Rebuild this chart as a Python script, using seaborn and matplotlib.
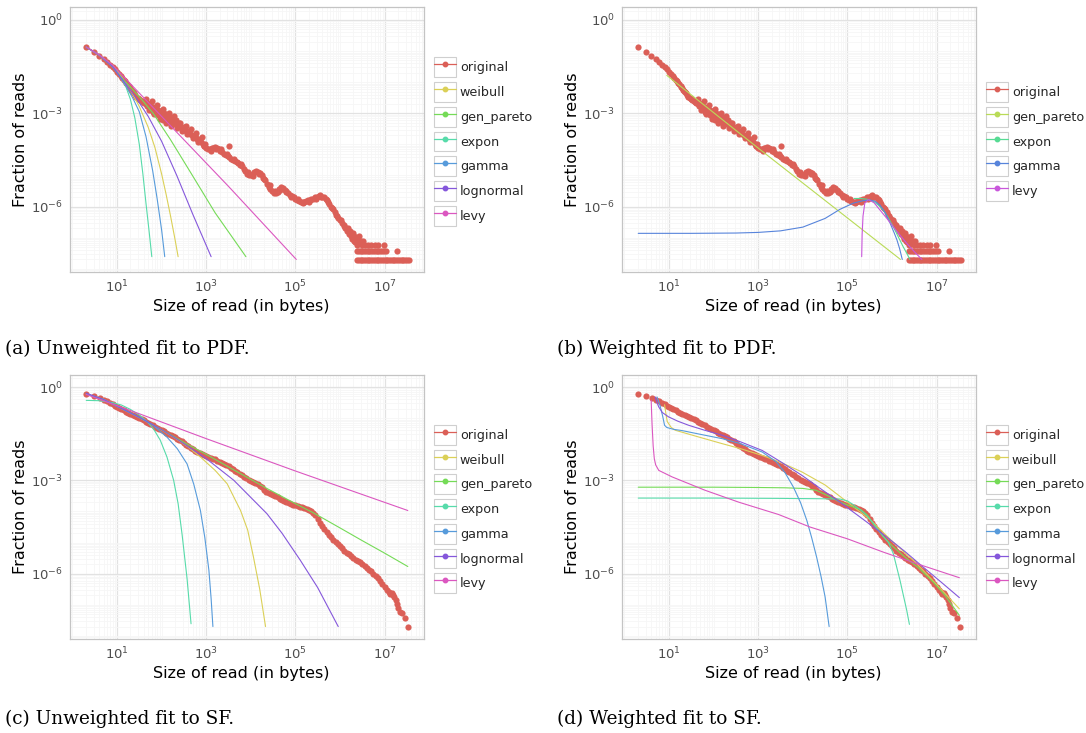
import numpy as np
import pandas as pd
import matplotlib
matplotlib.use("Agg")
import matplotlib.pyplot as plt
import seaborn as sns
from matplotlib.ticker import FixedLocator, FixedFormatter, NullFormatter, LogLocator
from matplotlib.lines import Line2D
from matplotlib.patches import Rectangle
from matplotlib.legend_handler import HandlerLine2D

# ---------------- data (stored as log10) ----------------
# empirical PDF of read sizes (panels a, b)
pdf_logx = [0.30, 0.48, 0.60, 0.70, 0.78, 0.85, 0.90, 0.95, 1.00, 1.04, 1.08, 1.11, 1.15, 1.18, 1.20, 1.23,
            1.26, 1.28, 1.30, 1.32, 1.34, 1.36, 1.38, 1.40, 1.43, 1.46, 1.49, 1.52, 1.55, 1.58, 1.61, 1.64,
            1.67, 1.70, 1.73, 1.76, 1.79, 1.82, 1.85, 1.88, 1.91, 1.94, 1.97, 2.00, 2.03, 2.06, 2.09, 2.12,
            2.15, 2.18, 2.21, 2.24, 2.27, 2.30, 2.33, 2.36, 2.40, 2.44, 2.48, 2.52, 2.56, 2.60, 2.64, 2.68,
            2.72, 2.76, 2.80, 2.84, 2.88, 2.92, 2.96, 3.00, 3.04, 3.08, 3.12, 3.16, 3.20, 3.24, 3.28, 3.32,
            3.36, 3.40, 3.44, 3.48, 3.50, 3.52, 3.56, 3.60, 3.64, 3.68, 3.72, 3.76, 3.80, 3.84, 3.88, 3.92,
            3.96, 4.00, 4.04, 4.08, 4.12, 4.16, 4.20, 4.24, 4.28, 4.32, 4.36, 4.40, 4.44, 4.48, 4.52, 4.56,
            4.60, 4.64, 4.68, 4.72, 4.76, 4.80, 4.84, 4.88, 4.92, 4.96, 5.00, 5.04, 5.08, 5.12, 5.16, 5.20,
            5.24, 5.28, 5.32, 5.36, 5.40, 5.44, 5.48, 5.52, 5.56, 5.60, 5.64, 5.68, 5.72, 5.76, 5.80, 5.84,
            5.88, 5.92, 5.96, 6.00, 6.04, 6.08, 6.12, 6.16, 6.20, 6.24,
            1.62, 1.68, 1.74, 1.80, 1.86, 1.92, 1.98, 2.02, 2.08, 2.14, 2.20, 2.26, 2.32, 2.38, 2.50, 2.62,
            2.74, 2.86, 2.98, 3.10, 3.22, 3.34, 3.46, 3.62, 3.78, 3.94, 4.06, 4.18, 4.30, 4.42, 4.54, 4.66,
            4.78, 4.90, 5.06, 5.18, 5.30, 5.46, 5.58, 5.70, 5.82, 5.94, 6.02, 6.10, 6.18,
            1.65, 1.72, 1.78, 1.84, 1.90, 1.96, 2.04, 2.10, 2.16, 2.22, 2.28, 2.34, 2.42, 2.46, 2.54, 2.58,
            2.66, 2.70, 2.78, 2.82, 2.90, 2.94,
            6.22, 6.26, 6.27, 6.29, 6.31, 6.32, 6.34, 6.35, 6.37, 6.39, 6.41, 6.43, 6.46, 6.49, 6.52, 6.56,
            6.62, 6.70, 6.78, 6.86, 6.99,
            6.38, 6.42, 6.46, 6.50, 6.54, 6.58, 6.62, 6.66, 6.70, 6.74, 6.78, 6.82, 6.86, 6.90, 6.94, 6.98,
            7.02, 7.27,
            6.38, 6.42, 6.46, 6.50, 6.54, 6.58, 6.62, 6.66, 6.70, 6.74, 6.78, 6.82, 6.86, 6.90, 6.94, 6.98,
            7.02, 7.06, 7.10, 7.14, 7.18, 7.22, 7.26, 7.30, 7.34, 7.38, 7.42, 7.46, 7.50, 7.54]
pdf_logy = [-0.87, -1.03, -1.15, -1.27, -1.36, -1.45, -1.52, -1.58, -1.66, -1.73, -1.80, -1.86, -1.92, -1.97,
            -2.02, -2.07, -2.11, -2.16, -2.20, -2.24, -2.28, -2.33, -2.36, -2.40, -2.46, -2.50, -2.55, -2.58,
            -2.62, -2.63, -2.66, -2.70, -2.68, -2.75, -2.72, -2.83, -2.80, -2.90, -2.86, -2.95, -3.05, -2.92,
            -3.10, -3.02, -3.15, -2.98, -3.20, -3.08, -3.25, -3.12, -3.30, -3.18, -3.22, -3.32, -3.28, -3.38,
            -3.42, -3.45, -3.50, -3.53, -3.60, -3.62, -3.66, -3.70, -3.74, -3.78, -3.82, -3.88, -3.93, -3.98,
            -4.05, -4.12, -4.16, -4.14, -4.12, -4.10, -4.08, -4.10, -4.14, -4.20, -4.26, -4.30, -4.35, -4.38,
            -4.04, -4.42, -4.46, -4.50, -4.52, -4.56, -4.60, -4.65, -4.70, -4.78, -4.86, -4.94, -4.98, -5.00,
            -4.96, -4.90, -4.86, -4.88, -4.93, -5.00, -5.08, -5.16, -5.26, -5.36, -5.44, -5.50, -5.56, -5.56,
            -5.52, -5.44, -5.38, -5.40, -5.46, -5.52, -5.56, -5.62, -5.66, -5.70, -5.74, -5.78, -5.82, -5.86,
            -5.88, -5.86, -5.82, -5.80, -5.78, -5.76, -5.74, -5.70, -5.68, -5.66, -5.64, -5.68, -5.70, -5.76,
            -5.84, -5.92, -6.00, -6.08, -6.16, -6.26, -6.36, -6.44, -6.52, -6.62, -6.70, -6.78, -6.88, -6.96,
            -2.60, -2.78, -2.70, -2.95, -2.80, -2.88, -2.96, -3.22, -3.05, -3.18, -3.22, -3.35, -3.22, -3.32,
            -3.45, -3.58, -3.70, -3.84, -4.00, -4.20, -4.16, -4.16, -4.32, -4.46, -4.62, -4.90, -5.02, -4.94,
            -5.12, -5.30, -5.50, -5.46, -5.50, -5.70, -5.74, -5.84, -5.84, -5.74, -5.70, -5.80, -6.05, -6.30,
            -6.42, -6.58, -6.70,
            -2.55, -2.88, -2.62, -3.02, -2.74, -3.18, -2.86, -3.32, -2.98, -3.42, -3.08, -3.48, -3.30, -3.58,
            -3.40, -3.66, -3.52, -3.80, -3.64, -3.92, -3.76, -4.06,
            -6.78, -6.92, -7.05, -6.85, -7.10, -6.95, -7.15, -7.02, -7.24, -7.02, -7.12, -6.95, -7.12, -7.24,
            -7.12, -7.24, -7.24, -7.24, -7.24, -7.24, -7.24,
            -7.42, -7.42, -7.42, -7.42, -7.42, -7.42, -7.42, -7.42, -7.42, -7.42, -7.42, -7.42, -7.42, -7.42,
            -7.42, -7.42, -7.42, -7.42,
            -7.72, -7.72, -7.72, -7.72, -7.72, -7.72, -7.72, -7.72, -7.72, -7.72, -7.72, -7.72, -7.72, -7.72,
            -7.72, -7.72, -7.72, -7.72, -7.72, -7.72, -7.72, -7.72, -7.72, -7.72, -7.72, -7.72, -7.72, -7.72,
            -7.72, -7.72]

# empirical survival function (panels c, d)
sf_logx = [0.31, 0.49, 0.61, 0.70, 0.78, 0.85, 0.90, 0.95, 1.00, 1.05, 1.10, 1.15, 1.20, 1.25, 1.30, 1.35,
           1.40, 1.45, 1.50, 1.55, 1.60, 1.65, 1.70, 1.75, 1.80, 1.85, 1.90, 1.95, 2.00, 2.05, 2.10, 2.15,
           2.20, 2.25, 2.30, 2.35, 2.40, 2.45, 2.50, 2.55, 2.60, 2.65, 2.70, 2.75, 2.80, 2.85, 2.90, 2.95,
           3.00, 3.05, 3.10, 3.15, 3.20, 3.25, 3.30, 3.35, 3.40, 3.45, 3.50, 3.55, 3.60, 3.65, 3.70, 3.75,
           3.80, 3.85, 3.90, 3.95, 4.00, 4.05, 4.10, 4.15, 4.20, 4.25, 4.30, 4.35, 4.40, 4.45, 4.50, 4.55,
           4.60, 4.65, 4.70, 4.75, 4.80, 4.85, 4.90, 4.95, 5.00, 5.05, 5.10, 5.15, 5.20, 5.25, 5.30, 5.35,
           5.40, 5.45, 5.50, 5.55, 5.60, 5.65, 5.70, 5.75, 5.80, 5.85, 5.90, 5.95, 6.00, 6.05, 6.10, 6.15,
           6.20, 6.25, 6.30, 6.35, 6.40, 6.45, 6.50, 6.55, 6.60, 6.65, 6.70, 6.75, 6.80, 6.85, 6.90, 6.95,
           7.00, 7.05, 7.10, 7.13, 7.16, 7.19, 7.22, 7.25, 7.28, 7.31, 7.35, 7.40, 7.46, 7.52]
sf_logy = [-0.24, -0.30, -0.35, -0.41, -0.46, -0.52, -0.56, -0.60, -0.64, -0.68, -0.71, -0.75, -0.79, -0.82,
           -0.86, -0.89, -0.92, -0.95, -0.99, -1.03, -1.07, -1.11, -1.15, -1.19, -1.23, -1.27, -1.31, -1.35,
           -1.39, -1.43, -1.47, -1.50, -1.54, -1.58, -1.62, -1.66, -1.70, -1.75, -1.80, -1.85, -1.90, -1.95,
           -2.00, -2.05, -2.09, -2.13, -2.16, -2.19, -2.22, -2.25, -2.27, -2.30, -2.33, -2.37, -2.40, -2.43,
           -2.47, -2.51, -2.55, -2.59, -2.64, -2.69, -2.74, -2.79, -2.84, -2.89, -2.94, -2.99, -3.03, -3.06,
           -3.09, -3.12, -3.17, -3.23, -3.30, -3.36, -3.40, -3.44, -3.48, -3.51, -3.55, -3.59, -3.63, -3.67,
           -3.70, -3.73, -3.75, -3.78, -3.80, -3.82, -3.85, -3.87, -3.89, -3.92, -3.95, -3.99, -4.05, -4.13,
           -4.24, -4.36, -4.46, -4.57, -4.67, -4.75, -4.83, -4.91, -4.98, -5.05, -5.12, -5.19, -5.26, -5.32,
           -5.38, -5.44, -5.50, -5.55, -5.60, -5.64, -5.69, -5.75, -5.81, -5.87, -5.93, -6.00, -6.08, -6.15,
           -6.24, -6.33, -6.42, -6.52, -6.60, -6.65, -6.63, -6.68, -6.75, -6.85, -6.97, -7.10, -7.22, -7.28,
           -7.43, -7.73]

# (a) unweighted fits to the PDF
a_weibull_x = [0.31, 0.6, 0.9, 1.1, 1.3, 1.5, 1.7, 1.85, 2.0, 2.1, 2.2, 2.3, 2.37]
a_weibull_y = [-0.87, -1.12, -1.47, -1.82, -2.25, -2.78, -3.45, -4.1, -4.95, -5.6, -6.3, -7.05, -7.61]
a_genpareto_x = [0.31, 0.6, 0.9, 1.07, 1.3, 1.55, 1.81, 2.2, 2.67, 3.2, 3.89]
a_genpareto_y = [-0.87, -1.12, -1.48, -1.80, -2.15, -2.55, -3.0, -3.85, -4.95, -6.2, -7.61]
a_expon_x = [0.31, 0.6, 0.9, 1.07, 1.2, 1.3, 1.4, 1.5, 1.58, 1.65, 1.72, 1.78]
a_expon_y = [-0.88, -1.13, -1.5, -1.82, -2.15, -2.55, -3.15, -4.0, -4.95, -5.9, -6.8, -7.61]
a_gamma_x = [0.31, 0.6, 0.9, 1.07, 1.2, 1.35, 1.5, 1.65, 1.8, 1.9, 2.0, 2.07]
a_gamma_y = [-0.87, -1.13, -1.5, -1.83, -2.12, -2.5, -2.95, -3.75, -4.85, -5.75, -6.75, -7.61]
a_lognorm_x = [0.31, 0.6, 0.9, 1.07, 1.25, 1.45, 1.7, 2.0, 2.34, 2.7, 3.11]
a_lognorm_y = [-0.87, -1.12, -1.49, -1.82, -2.15, -2.55, -3.1, -3.9, -5.0, -6.25, -7.61]
a_levy_x = [0.31, 0.6, 0.9, 1.2, 1.6, 2.5, 3.5, 5.02]
a_levy_y = [-0.87, -1.12, -1.45, -1.9, -2.5, -3.85, -5.35, -7.70]

# (b) weighted fits to the PDF
b_genpareto_x = [0.95, 3.0, 6.19]
b_genpareto_y = [-1.78, -4.12, -7.70]
b_expon_x = [5.15, 5.3, 5.47, 5.6, 5.7, 5.8, 5.9, 6.03, 6.15, 6.25, 6.33, 6.40]
b_expon_y = [-5.74, -5.74, -5.77, -5.85, -5.96, -6.11, -6.32, -6.65, -7.0, -7.29, -7.5, -7.70]
b_gamma_x = [0.31, 1.5, 2.5, 3.0, 3.5, 4.0, 4.5, 4.83, 5.13, 5.35, 5.51, 5.62, 5.73, 5.85, 5.96, 6.05,
             6.11, 6.17, 6.23]
b_gamma_y = [-6.86, -6.86, -6.85, -6.83, -6.78, -6.66, -6.38, -6.09, -5.89, -5.81, -5.79, -5.83, -5.95,
             -6.2, -6.54, -6.85, -7.07, -7.35, -7.70]
b_levy_x = [5.32, 5.33, 5.35, 5.39, 5.47, 5.6, 5.73, 5.88, 6.03, 6.18, 6.33, 6.5, 6.67]
b_levy_y = [-7.61, -6.9, -6.3, -5.89, -5.77, -5.88, -6.11, -6.37, -6.65, -6.92, -7.18, -7.45, -7.70]

# (c) unweighted fits to the SF
c_weibull_x = [0.31, 0.7, 1.0, 1.5, 2.0, 2.3, 2.6, 2.87, 3.2, 3.47, 3.77, 3.93, 4.06, 4.2, 4.33]
c_weibull_y = [-0.22, -0.40, -0.62, -0.98, -1.38, -1.64, -1.93, -2.25, -2.68, -3.11, -3.97, -4.6, -5.47,
               -6.5, -7.70]
c_genpareto_x = [0.31, 0.7, 1.0, 1.5, 2.0, 2.5, 3.02, 3.5, 4.0, 4.36, 5.0, 5.41, 6.0, 6.5, 7.0, 7.52]
c_genpareto_y = [-0.22, -0.40, -0.62, -0.97, -1.37, -1.78, -2.18, -2.57, -2.97, -3.26, -3.75, -4.05,
                 -4.53, -4.94, -5.34, -5.77]
c_expon_x = [0.31, 0.6, 0.9, 1.1, 1.3, 1.5, 1.67, 1.82, 1.97, 2.12, 2.27, 2.37, 2.46, 2.57, 2.66]
c_expon_y = [-0.43, -0.44, -0.50, -0.58, -0.72, -0.90, -1.10, -1.35, -1.71, -2.25, -3.0, -3.75, -4.75,
             -6.15, -7.61]
c_gamma_x = [0.31, 0.7, 1.0, 1.5, 1.8, 2.12, 2.35, 2.57, 2.72, 2.87, 2.97, 3.06, 3.11, 3.15]
c_gamma_y = [-0.22, -0.40, -0.62, -0.98, -1.22, -1.61, -1.98, -2.47, -3.12, -3.97, -4.85, -5.89, -6.8,
             -7.70]
c_lognorm_x = [0.31, 0.7, 1.0, 1.5, 2.0, 2.35, 3.0, 3.62, 4.0, 4.36, 4.7, 5.11, 5.5, 5.96]
c_lognorm_y = [-0.20, -0.40, -0.62, -0.97, -1.37, -1.68, -2.3, -3.0, -3.55, -4.07, -4.7, -5.57, -6.45,
               -7.70]
c_levy_x = [0.31, 1.5, 3.0, 5.0, 7.52]
c_levy_y = [-0.24, -0.86, -1.66, -2.70, -3.97]

# (d) weighted fits to the SF
d_weibull_x = [0.90, 0.93, 0.96, 1.05, 1.14, 1.6, 2.19, 2.6, 3.09, 3.5, 3.98, 4.5, 5.0, 5.5, 6.0, 6.5,
               7.0, 7.51]
d_weibull_y = [-0.57, -0.85, -1.11, -1.30, -1.39, -1.58, -1.82, -1.98, -2.20, -2.42, -2.73, -3.15, -3.7,
               -4.25, -4.95, -5.6, -6.35, -7.13]
d_genpareto_x = [0.31, 2.0, 3.0, 3.6, 4.0, 4.3, 4.6, 4.8, 5.0, 5.3, 5.45, 5.6, 5.8, 6.0, 6.3, 6.6, 6.93,
                 7.2, 7.51]
d_genpareto_y = [-3.22, -3.22, -3.23, -3.24, -3.26, -3.32, -3.52, -3.68, -3.79, -3.94, -4.12, -4.44, -4.80,
                 -5.10, -5.48, -5.82, -6.28, -6.72, -7.34]
d_expon_x = [0.31, 2.0, 3.5, 4.3, 4.83, 5.0, 5.15, 5.3, 5.45, 5.6, 5.8, 5.92, 6.03, 6.18, 6.33, 6.39]
d_expon_y = [-3.57, -3.57, -3.58, -3.59, -3.60, -3.66, -3.8, -3.96, -4.15, -4.42, -4.8, -5.0, -5.36, -6.22,
             -7.18, -7.63]
d_gamma_x = [0.73, 0.80, 0.86, 0.90, 0.95, 1.1, 1.29, 1.7, 2.19, 2.6, 3.09, 3.4, 3.6, 3.79, 3.95, 4.09,
             4.2, 4.31, 4.41, 4.50, 4.59]
d_gamma_y = [-0.32, -0.6, -0.95, -1.23, -1.30, -1.36, -1.40, -1.52, -1.66, -1.82, -2.09, -2.4, -2.75,
             -3.22, -3.72, -4.29, -4.85, -5.47, -6.1, -6.75, -7.70]
d_lognorm_x = [0.69, 0.73, 0.77, 0.85, 0.99, 1.2, 1.44, 1.8, 2.19, 2.6, 3.09, 3.5, 3.98, 4.4, 4.83, 5.35,
               5.88, 6.3, 6.70, 7.1, 7.51]
d_lognorm_y = [-0.32, -0.5, -0.64, -0.82, -0.96, -1.1, -1.23, -1.39, -1.55, -1.76, -2.04, -2.4, -2.84,
               -3.27, -3.70, -4.25, -4.82, -5.3, -5.79, -6.27, -6.77]
d_levy_x = [0.60, 0.62, 0.645, 0.67, 0.70, 0.77, 1.07, 1.81, 2.56, 3.46, 4.16, 5.0, 5.81, 6.6, 7.51]
d_levy_y = [-0.43, -1.2, -1.9, -2.3, -2.5, -2.68, -2.89, -3.32, -3.70, -4.10, -4.50, -4.88, -5.31, -5.7,
            -6.13]

names7 = ["original", "weibull", "gen_pareto", "expon", "gamma", "lognormal", "levy"]
names5 = ["original", "gen_pareto", "expon", "gamma", "levy"]
x_ticks = [1e1, 1e3, 1e5, 1e7]
x_tick_labels = [r"$10^{1}$", r"$10^{3}$", r"$10^{5}$", r"$10^{7}$"]
y_ticks = [1e0, 1e-3, 1e-6]
y_tick_labels = [r"$10^{0}$", r"$10^{-3}$", r"$10^{-6}$"]
captions = ["(a) Unweighted fit to PDF.", "(b) Weighted fit to PDF.",
            "(c) Unweighted fit to SF.", "(d) Weighted fit to SF."]

# ---------------- style ----------------
sns.set_style("white")
plt.rcParams["font.family"] = ["DejaVu Sans"]
pal7 = sns.hls_palette(7, h=0.01, l=0.6, s=0.65)
pal5 = sns.hls_palette(5, h=0.01, l=0.6, s=0.65)

W, H = 1086, 733
fig = plt.figure(figsize=(W / 100, H / 100), dpi=100)
ax_a = fig.add_axes([70 / W, 1 - 272 / H, 354 / W, 265 / H])
ax_b = fig.add_axes([622 / W, 1 - 272 / H, 354 / W, 265 / H])
ax_c = fig.add_axes([70 / W, 1 - 639 / H, 354 / W, 264 / H])
ax_d = fig.add_axes([622 / W, 1 - 639 / H, 354 / W, 264 / H])

LEG_FS = 9.2


class BoxedHandler(HandlerLine2D):
    def create_artists(self, legend, orig_handle, xdescent, ydescent, width, height, fontsize, trans):
        arts = super().create_artists(legend, orig_handle, xdescent, ydescent, width, height, fontsize, trans)
        box = Rectangle((-xdescent, -ydescent), width, height, facecolor="white",
                        edgecolor="#CFCFCF", lw=0.8, transform=trans)
        return [box] + list(arts)


def draw_panel(ax, data_x, data_y, fits, names, pal, ylim):
    d = pd.DataFrame({"x": 10 ** np.array(data_x), "y": 10 ** np.array(data_y)})
    sns.scatterplot(data=d, x="x", y="y", ax=ax, color=pal[0], s=20, linewidth=0, legend=False, zorder=3)
    for (fx, fy), c in zip(fits, pal[1:]):
        f = pd.DataFrame({"x": 10 ** np.array(fx), "y": 10 ** np.array(fy)})
        sns.lineplot(data=f, x="x", y="y", ax=ax, color=c, lw=0.8, sort=False, estimator=None,
                     legend=False, zorder=4)
    ax.set_xscale("log")
    ax.set_yscale("log")
    ax.set_xlim(10 ** -0.054, 10 ** 7.883)
    ax.set_ylim(*ylim)
    ax.xaxis.set_major_locator(FixedLocator(x_ticks))
    ax.xaxis.set_major_formatter(FixedFormatter(x_tick_labels))
    ax.yaxis.set_major_locator(FixedLocator(y_ticks))
    ax.yaxis.set_major_formatter(FixedFormatter(y_tick_labels))
    ax.xaxis.set_minor_locator(LogLocator(base=10, subs=np.arange(1, 10), numticks=200))
    ax.yaxis.set_minor_locator(LogLocator(base=10, subs=np.arange(1, 10), numticks=200))
    ax.xaxis.set_minor_formatter(NullFormatter())
    ax.yaxis.set_minor_formatter(NullFormatter())
    ax.grid(True, which="major", color="#E2E2E2", lw=0.9)
    ax.grid(True, which="minor", color="#F6F6F6", lw=0.6)
    ax.set_axisbelow(True)
    for s in ax.spines.values():
        s.set_color("#C4C4C4")
        s.set_linewidth(0.9)
    ax.tick_params(which="both", length=0, labelsize=9.5, labelcolor="#4D4D4D")
    ax.tick_params(axis="x", pad=4.5)
    ax.tick_params(axis="y", pad=5)
    ax.set_xlabel("Size of read (in bytes)", fontsize=11.5, color="black", labelpad=3)
    ax.set_ylabel("Fraction of reads", fontsize=11.5, color="black", labelpad=2.5)
    ax.xaxis.label.set_x(0.483)

    handles = [Line2D([], [], color=c, lw=0.9, marker="o", markersize=3.2) for c in pal]
    ax.legend(handles, names, loc="center left", bbox_to_anchor=(1.028, 0.4925), frameon=False,
              fontsize=LEG_FS, handlelength=1.72, handleheight=1.99, labelspacing=0.40,
              handletextpad=0.31, borderpad=0, borderaxespad=0, numpoints=1,
              handler_map={Line2D: BoxedHandler()})


ylim_top = (10 ** -8.103, 10 ** 0.418)
ylim_bot = (10 ** -8.10, 10 ** 0.386)

draw_panel(ax_a, pdf_logx, pdf_logy,
           [(a_weibull_x, a_weibull_y), (a_genpareto_x, a_genpareto_y), (a_expon_x, a_expon_y),
            (a_gamma_x, a_gamma_y), (a_lognorm_x, a_lognorm_y), (a_levy_x, a_levy_y)],
           names7, pal7, ylim_top)
draw_panel(ax_b, pdf_logx, pdf_logy,
           [(b_genpareto_x, b_genpareto_y), (b_expon_x, b_expon_y), (b_gamma_x, b_gamma_y),
            (b_levy_x, b_levy_y)],
           names5, pal5, ylim_top)
draw_panel(ax_c, sf_logx, sf_logy,
           [(c_weibull_x, c_weibull_y), (c_genpareto_x, c_genpareto_y), (c_expon_x, c_expon_y),
            (c_gamma_x, c_gamma_y), (c_lognorm_x, c_lognorm_y), (c_levy_x, c_levy_y)],
           names7, pal7, ylim_bot)
draw_panel(ax_d, sf_logx, sf_logy,
           [(d_weibull_x, d_weibull_y), (d_genpareto_x, d_genpareto_y), (d_expon_x, d_expon_y),
            (d_gamma_x, d_gamma_y), (d_lognorm_x, d_lognorm_y), (d_levy_x, d_levy_y)],
           names7, pal7, ylim_bot)

cap_pos = [(5, 354), (557, 354), (5, 724), (557, 724)]
for (cx, cy), txt in zip(cap_pos, captions):
    fig.text(cx / W, 1 - cy / H, txt, family="DejaVu Serif", fontsize=13.3, va="baseline", ha="left",
             color="black")

fig.savefig("out.png", dpi=100)
